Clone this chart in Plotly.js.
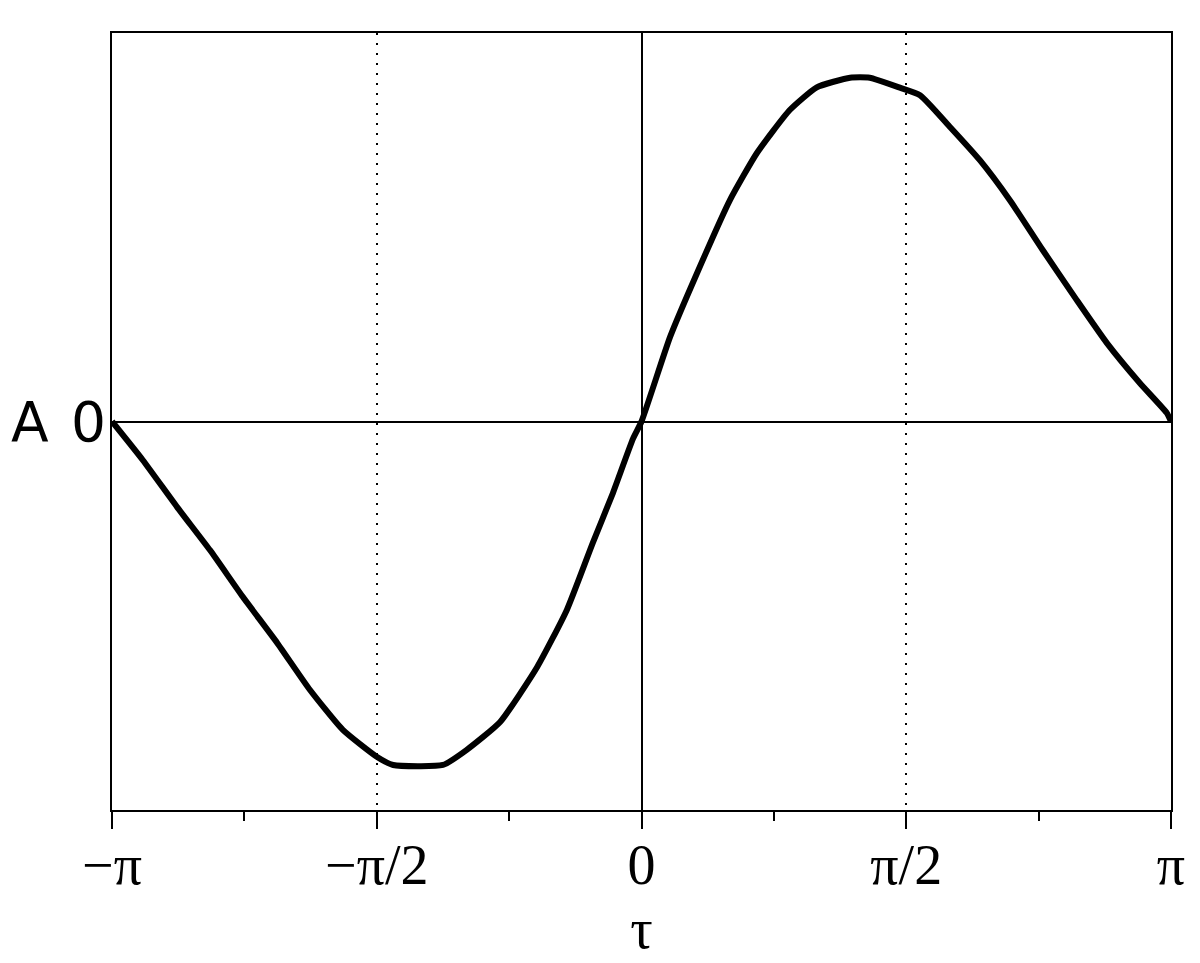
<!DOCTYPE html>
<html>
<head>
<meta charset="utf-8">
<script src="https://cdn.plot.ly/plotly-3.0.1.min.js"></script>
<style>html,body{margin:0;padding:0;background:#fff;}#chart{width:1200px;height:963px;}</style>
</head>
<body>
<div id="chart"></div>
<script>
// tau in units of pi, amplitude A
const tau = [-1, -0.942, -0.877, -0.815, -0.753, -0.688, -0.626, -0.564, -0.5, -0.469, -0.375, -0.33, -0.267, -0.197, -0.141, -0.092, -0.054, -0.016, 0, 0.054, 0.105, 0.167, 0.218, 0.28, 0.331, 0.394, 0.431, 0.488, 0.526, 0.583, 0.639, 0.696, 0.758, 0.822, 0.879, 0.941, 0.992, 1];
const amp = [0, -0.112, -0.249, -0.374, -0.51, -0.644, -0.781, -0.897, -0.975, -0.999, -0.999, -0.955, -0.874, -0.714, -0.548, -0.353, -0.208, -0.05, 0, 0.246, 0.432, 0.644, 0.781, 0.906, 0.972, 1.0, 1.0, 0.971, 0.949, 0.856, 0.76, 0.643, 0.498, 0.353, 0.228, 0.112, 0.025, 0];

const xTickVals = [-1, -0.5, 0, 0.5, 1];
const xTickText = ['−π', '−π/2', '0', 'π/2', 'π'];
const xMinorTicks = [-0.75, -0.25, 0.25, 0.75];
const yTickVals = [0];
const yTickText = ['0'];
const xTitle = 'τ';
const yTitle = 'A';

const trace = {
  x: tau, y: amp, type: 'scatter', mode: 'lines',
  line: {color: '#000', width: 6, shape: 'spline', smoothing: 0.5},
  hoverinfo: 'skip', showlegend: false
};

const layout = {
  width: 1200, height: 963,
  margin: {l: 112, r: 29, t: 33, b: 153},
  paper_bgcolor: '#fff', plot_bgcolor: '#fff',
  showlegend: false,
  xaxis: {
    range: [-1, 1],
    tickmode: 'array', tickvals: xTickVals, ticktext: xTickText,
    tickfont: {family: 'Liberation Serif, Times New Roman, serif', size: 56, color: '#000'},
    ticks: 'outside', ticklen: 17, tickwidth: 2, tickcolor: '#000',
    ticklabelstandoff: -12,
    minor: {tickmode: 'array', tickvals: xMinorTicks, ticks: 'outside', ticklen: 9, tickwidth: 2, tickcolor: '#000', showgrid: false},
    showline: true, linecolor: '#000', linewidth: 2, mirror: true,
    showgrid: true, gridcolor: '#000', gridwidth: 2, griddash: '2px,8px',
    zeroline: true, zerolinecolor: '#000', zerolinewidth: 2,
    title: {text: xTitle, font: {family: 'Liberation Serif, Times New Roman, serif', size: 56, color: '#000'}, standoff: 14},
    fixedrange: true
  },
  yaxis: {
    range: [-1.13, 1.13],
    tickmode: 'array', tickvals: yTickVals, ticktext: yTickText,
    tickfont: {family: 'DejaVu Sans, sans-serif', size: 55, color: '#000'},
    ticks: '', ticklabelstandoff: -7,
    showline: true, linecolor: '#000', linewidth: 2, mirror: true,
    showgrid: false,
    zeroline: true, zerolinecolor: '#000', zerolinewidth: 2,
    fixedrange: true
  },
  annotations: [{
    text: yTitle, xref: 'paper', x: -0.0774, xanchor: 'center',
    yref: 'y', y: 0, yanchor: 'middle', showarrow: false,
    font: {family: 'DejaVu Sans, sans-serif', size: 55, color: '#000'}
  }]
};

Plotly.newPlot('chart', [trace], layout, {staticPlot: true, displayModeBar: false});
</script>
</body>
</html>
